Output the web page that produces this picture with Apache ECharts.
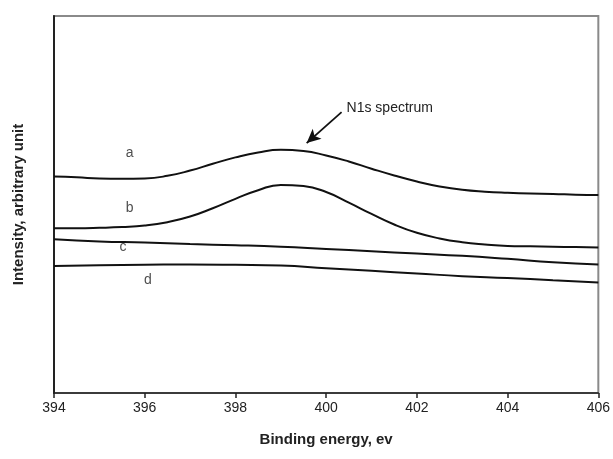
<!DOCTYPE html>
<html>
<head>
<meta charset="utf-8">
<script src="https://cdn.jsdelivr.net/npm/echarts@6/dist/echarts.min.js"></script>
<style>html,body{margin:0;padding:0;background:#fff;}#chart{width:613px;height:459px;}</style>
</head>
<body>
<div id="chart"></div>
<script>
// Binding energy grid (eV)
const xHalf = [394,394.5,395,395.5,396,396.5,397,397.5,398,398.5,399,399.5,400,400.5,401,401.5,402,402.5,403,403.5,404,404.5,405,405.5,406];
const xWhole = [394,395,396,397,398,399,400,401,402,403,404,405,406];
// Intensity (arbitrary units)
const curveA = [57.4,57.2,56.9,56.8,56.9,57.6,59.0,60.8,62.5,63.8,64.5,64.2,63.0,61.4,59.5,57.7,56.1,54.8,53.9,53.4,53.1,52.9,52.8,52.6,52.5];
const curveB = [43.7,43.7,43.8,44.0,44.4,45.3,46.8,49.0,51.5,53.8,55.2,54.9,53.3,50.5,47.5,44.7,42.5,41.0,40.0,39.4,39.0,38.9,38.8,38.7,38.6];
const curveC = [40.8,40.2,39.9,39.5,39.2,38.8,38.2,37.6,37.0,36.4,35.6,34.7,34.1];
const curveD = [33.7,33.9,34.0,34.1,34.0,33.8,33.1,32.4,31.7,31.0,30.5,29.9,29.3];
const xTicks = [394,396,398,400,402,404,406];
// Curve labels [x, y, text]
const curveLabels = [[395.67,63.7,'a'],[395.67,49.1,'b'],[395.52,38.7,'c'],[396.07,30.0,'d']];
// Annotation
const annoText = 'N1s spectrum';
const annoTextPos = [400.45,75.6];
const arrowFrom = [400.34,74.5];
const arrowTo = [399.57,66.3];

function zip(xs, ys){ return xs.map((x,i)=>[x, ys[i]]); }
const lineStyle = {color:'#111', width:2};
function mkSeries(xs, ys){
  return {type:'line', data: zip(xs, ys), smooth:0.5, showSymbol:false, symbol:'none', lineStyle: lineStyle, silent:true, animation:false};
}
const series = [mkSeries(xHalf, curveA), mkSeries(xHalf, curveB), mkSeries(xWhole, curveC), mkSeries(xWhole, curveD)];
series.push({
  type:'scatter', symbolSize:0, animation:false, silent:true,
  data: curveLabels.map(l=>({value:[l[0],l[1]], label:{show:true, formatter:l[2], position:'inside', color:'#222', fontSize:14, fontFamily:'Liberation Sans'}})),
  markLine: {
    silent:true, animation:false, symbol:['none','arrow'], symbolSize:[10,14],
    lineStyle:{color:'#111', width:1.8, type:'solid'},
    label:{show:false},
    data:[[{coord:arrowFrom},{coord:arrowTo}]]
  },
  markPoint: {
    silent:true, animation:false, symbol:'circle', symbolSize:0,
    data:[{coord:annoTextPos, label:{show:true, formatter:annoText, position:'right', distance:0, color:'#222', fontSize:14, fontFamily:'Liberation Sans'}}]
  }
});

const chart = echarts.init(document.getElementById('chart'), null, {renderer:'canvas'});
chart.setOption({
  animation:false,
  backgroundColor:'#fff',
  grid:{left:54, right:14, top:16, bottom:66, show:true, borderColor:'#8a8a8a', borderWidth:2, backgroundColor:'transparent'},
  xAxis:{
    type:'value', min:394, max:406, interval:2,
    name:'Binding energy, ev', nameLocation:'middle', nameGap:39,
    nameTextStyle:{fontSize:15, fontWeight:'bold', color:'#222', fontFamily:'Liberation Sans'},
    axisLine:{show:true, lineStyle:{color:'#222', width:1.5}},
    axisTick:{show:true, inside:false, length:5, lineStyle:{color:'#222', width:1.5}},
    axisLabel:{fontSize:14, color:'#222', margin:8, fontFamily:'Liberation Sans', formatter: v => xTicks.includes(v) ? String(v) : ''},
    splitLine:{show:false}
  },
  yAxis:{
    type:'value', min:0, max:100,
    name:'Intensity, arbitrary unit', nameLocation:'middle', nameGap:28,
    nameTextStyle:{fontSize:15, fontWeight:'bold', color:'#222', fontFamily:'Liberation Sans'},
    axisLine:{show:true, lineStyle:{color:'#222', width:2}},
    axisTick:{show:false}, axisLabel:{show:false}, splitLine:{show:false}
  },
  series: series
});
</script>
</body>
</html>
